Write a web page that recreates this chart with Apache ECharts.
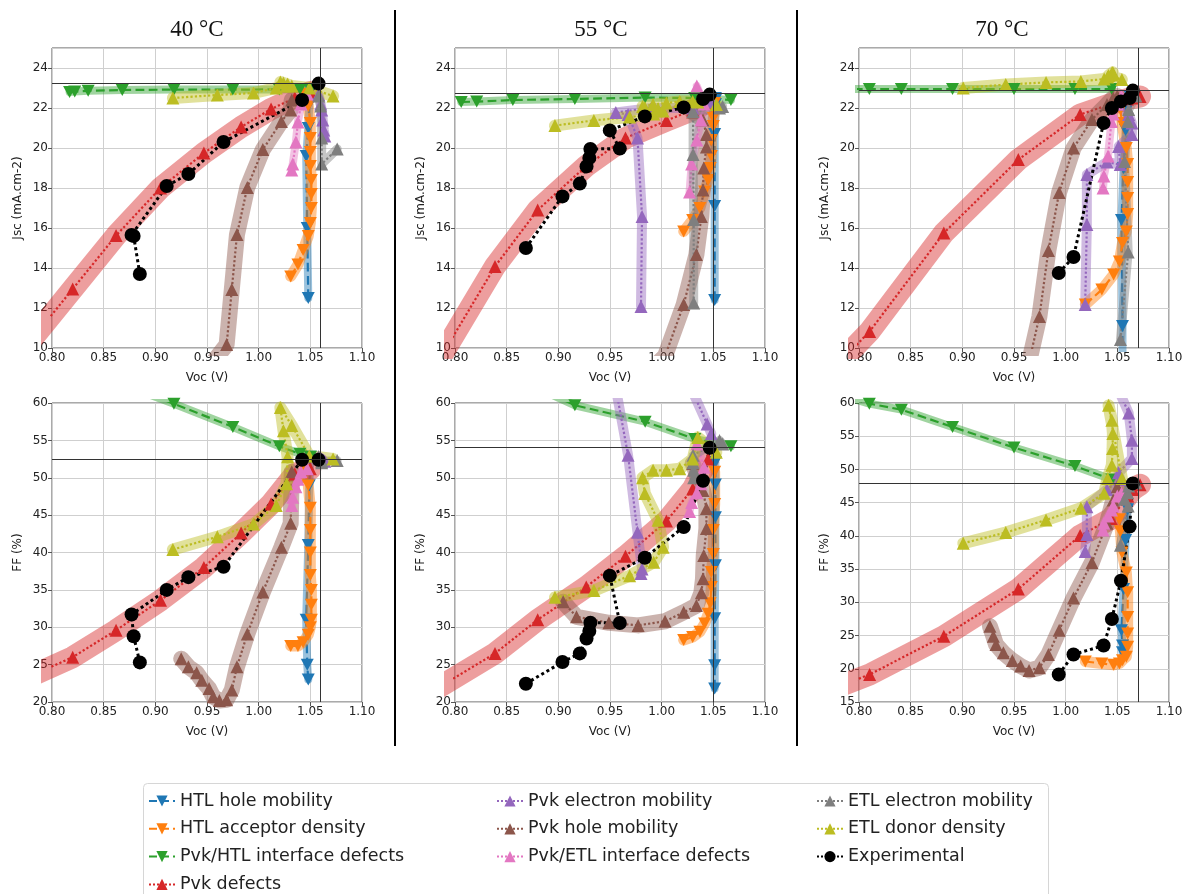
<!DOCTYPE html>
<html>
<head>
<meta charset="utf-8">
<script src="https://cdn.jsdelivr.net/npm/echarts@6/dist/echarts.min.js"></script>
<style>
html, body { margin: 0; background: #fff; }
#chart { width: 1193px; height: 894px; }
</style>
</head>
<body>
<div id="chart"></div>
<script>
// every point: [Voc (V), Jsc (mA.cm-2), FF (%)]
var names = ['HTL hole mobility', 'HTL acceptor density', 'Pvk/HTL interface defects', 'Pvk defects',
	'Pvk electron mobility', 'Pvk hole mobility', 'Pvk/ETL interface defects',
	'ETL electron mobility', 'ETL donor density', 'Experimental'];
var temps = ['40 °C', '55 °C', '70 °C'];
var vocTicks = [0.80, 0.85, 0.90, 0.95, 1.00, 1.05, 1.10];

// ---- 40 °C
var htlHole40 = [[1.048, 12.5, 23.0], [1.047, 16.0, 25.0], [1.046, 19.6, 31.0], [1.048, 21.0, 41.0], [1.049, 22.2, 49.0], [1.050, 22.9, 52.8]];
var htlAcc40 = [[1.031, 13.58, 27.5], [1.038, 14.17, 27.5], [1.043, 14.9, 28.0], [1.048, 15.6, 29.0], [1.050, 16.25, 30.0], [1.051, 17.0, 31.0], [1.051, 17.7, 33.0], [1.051, 18.4, 35.0], [1.050, 19.1, 37.0], [1.050, 19.8, 40.0], [1.050, 20.5, 43.0], [1.050, 21.25, 46.0], [1.048, 22.1, 49.0], [1.045, 22.7, 51.0]];
var pvkHtl40 = [[0.817, 22.8, 66.0], [0.822, 22.82, 65.0], [0.835, 22.86, 64.5], [0.868, 22.9, 62.5], [0.918, 22.92, 59.9], [0.975, 22.92, 56.8], [1.020, 22.93, 54.2], [1.040, 22.95, 53.2], [1.050, 22.95, 52.8]];
var pvkDef40 = [[0.780, 10.4, 23.5], [0.820, 12.95, 26.0], [0.862, 15.62, 29.6], [0.905, 18.0, 33.6], [0.947, 19.75, 38.0], [0.983, 21.05, 42.6], [1.012, 21.95, 46.5], [1.035, 22.5, 50.5], [1.050, 22.8, 51.2]];
var pvkElec40 = [[1.058, 22.67, 52.8], [1.060, 22.2, 52.6], [1.061, 21.9, 52.5], [1.062, 21.4, 52.4], [1.063, 20.9, 52.3], [1.064, 20.6, 52.2]];
var pvkHole40 = [[0.925, 4.0, 25.8], [0.932, 5.5, 24.7], [0.940, 6.8, 23.9], [0.945, 7.8, 22.9], [0.952, 8.7, 21.8], [0.956, 9.3, 20.7], [0.962, 9.7, 20.2], [0.969, 10.17, 20.3], [0.974, 12.92, 21.6], [0.979, 15.67, 24.7], [0.989, 18.03, 29.1], [1.004, 19.92, 34.7], [1.022, 21.33, 40.7], [1.031, 21.9, 43.9], [1.032, 22.4, 50.8]];
var pvkEtl40 = [[1.032, 18.9, 46.3], [1.033, 19.2, 47.4], [1.036, 20.3, 48.8], [1.038, 21.3, 49.8], [1.041, 22.2, 50.8], [1.047, 22.7, 51.2]];
var etlElec40 = [[1.058, 22.6, 52.8], [1.060, 22.1, 52.5], [1.061, 20.5, 52.2], [1.061, 19.2, 52.0], [1.076, 19.95, 52.3]];
var etlDon40 = [[0.917, 22.5, 40.4], [0.960, 22.65, 42.1], [0.995, 22.75, 43.8], [1.017, 23.0, 46.3], [1.027, 23.1, 49.2], [1.028, 23.2, 52.8], [1.024, 23.25, 56.3], [1.021, 23.3, 59.4], [1.032, 23.1, 57.0], [1.049, 23.0, 52.9], [1.072, 22.6, 52.5]];
var exp40 = [[0.885, 13.7, 25.3], [0.879, 15.6, 28.8], [0.877, 15.65, 31.7], [0.911, 18.1, 35.0], [0.932, 18.7, 36.7], [0.966, 20.3, 38.1], [1.042, 22.4, 52.4], [1.058, 23.22, 52.4]];
var ref40 = [1.0584, 23.22, 52.42];

// ---- 55 °C
var htlHole55 = [[1.0513, 12.4, 21.8], [1.0513, 17.1, 24.9], [1.0513, 20.7, 31.2], [1.052, 21.8, 38.3], [1.052, 22.2, 44.7], [1.052, 22.4, 49.1], [1.052, 22.5, 52.1]];
var htlAcc55 = [[1.0213, 15.83, 28.3], [1.030, 16.4, 28.7], [1.037, 17.0, 29.4], [1.0416, 17.83, 30.5], [1.045, 18.4, 31.8], [1.047, 19.0, 33.2], [1.048, 19.6, 35.4], [1.048, 20.4, 37.4], [1.050, 21.1, 39.8], [1.050, 21.5, 43.0], [1.0513, 21.8, 46.5], [1.0513, 22.25, 50.8]];
var pvkHtl55 = [[0.806, 22.3, 68.0], [0.821, 22.32, 66.5], [0.856, 22.4, 63.5], [0.916, 22.45, 59.7], [0.984, 22.52, 57.5], [1.032, 22.5, 55.2], [1.067, 22.4, 54.2]];
var pvkDef55 = [[0.780, 9.0, 21.6], [0.8387, 14.08, 26.5], [0.880, 16.9, 31.0], [0.927, 19.1, 35.4], [0.965, 20.5, 39.5], [1.0046, 21.37, 44.2], [1.030, 21.9, 48.5], [1.045, 22.3, 52.5]];
var pvkElec55 = [[0.980, 12.08, 37.2], [0.981, 16.58, 37.8], [0.9766, 20.5, 42.7], [0.9675, 21.67, 53.0], [0.9556, 21.78, 62.0], [0.990, 22.0, 66.0], [1.030, 22.0, 61.5], [1.044, 22.3, 57.2], [1.048, 22.4, 55.9]];
var pvkHole55 = [[0.9047, 5.0, 33.4], [0.9176, 5.8, 31.4], [0.949, 7.0, 30.6], [0.9772, 8.3, 30.25], [1.0033, 9.6, 30.8], [1.0213, 12.17, 32.0], [1.0336, 14.67, 32.9], [1.0384, 16.58, 34.6], [1.040, 17.9, 36.5], [1.0407, 19.0, 39.6], [1.0433, 20.05, 43.2], [1.0433, 20.67, 45.9], [1.040, 21.4, 48.3], [1.030, 21.8, 51.9]];
var pvkEtl55 = [[1.027, 17.8, 45.5], [1.029, 19.2, 46.7], [1.034, 20.4, 48.0], [1.038, 21.4, 49.2], [1.041, 22.2, 51.4], [1.034, 23.1, 54.5]];
var etlElec55 = [[1.031, 12.25, 50.0], [1.031, 16.42, 51.0], [1.0304, 19.67, 52.0], [1.0304, 21.83, 53.0], [1.056, 22.0, 55.0], [1.059, 22.08, 54.5]];
var etlDon55 = [[0.8967, 21.12, 34.0], [0.9344, 21.38, 34.9], [0.969, 21.55, 36.9], [0.9923, 21.7, 38.7], [1.0014, 21.85, 40.7], [0.9965, 21.95, 44.3], [0.9837, 22.02, 47.9], [0.9815, 22.08, 50.0], [0.9917, 22.17, 51.0], [1.0046, 22.25, 51.0], [1.0175, 22.33, 51.2], [1.030, 22.33, 52.5], [1.035, 22.3, 55.4], [1.0529, 22.17, 53.4]];
var exp55 = [[0.8686, 15.0, 22.45], [0.904, 17.58, 25.35], [0.9208, 18.22, 26.5], [0.9273, 19.08, 28.5], [0.930, 19.5, 29.5], [0.931, 19.95, 30.6], [0.9595, 19.97, 30.57], [0.9498, 20.88, 36.9], [0.9837, 21.58, 39.3], [1.0213, 22.03, 43.4], [1.040, 22.45, 49.6], [1.0465, 22.67, 54.0]];
var ref55 = [1.0468, 22.72, 54.05];

// ---- 70 °C
var htlHole70 = [[1.055, 9.5, 22.5], [1.055, 11.1, 23.5], [1.054, 16.4, 25.8], [1.056, 19.0, 32.0], [1.058, 20.9, 39.4], [1.060, 22.0, 44.0], [1.062, 22.6, 47.0]];
var htlAcc70 = [[1.019, 12.17, 21.1], [1.035, 12.92, 20.8], [1.0464, 13.67, 20.6], [1.052, 14.33, 20.8], [1.055, 15.25, 21.3], [1.0587, 15.83, 21.8], [1.060, 16.7, 23.3], [1.060, 17.5, 25.3], [1.060, 18.3, 27.8], [1.060, 19.2, 31.5], [1.0587, 20.0, 34.5], [1.0545, 21.25, 37.5], [1.053, 21.92, 40.7], [1.052, 22.3, 42.5]];
var pvkHtl70 = [[0.795, 22.95, 60.6], [0.810, 22.95, 59.9], [0.841, 22.95, 59.0], [0.8905, 22.95, 56.4], [0.950, 22.95, 53.3], [1.009, 22.95, 50.5], [1.0447, 22.95, 48.5]];
var pvkDef70 = [[0.780, 9.2, 17.3], [0.8103, 10.83, 19.15], [0.8821, 15.75, 24.9], [0.9542, 19.42, 32.0], [1.014, 21.67, 40.05], [1.044, 22.2, 42.6], [1.060, 22.45, 46.0], [1.065, 22.5, 47.0], [1.072, 22.58, 47.7]];
var pvkElec70 = [[1.0189, 12.17, 37.65], [1.0205, 16.17, 40.2], [1.0205, 18.67, 44.4], [1.040, 19.3, 47.0], [1.0528, 19.17, 48.5], [1.0512, 20.08, 49.5], [1.0641, 20.67, 51.65], [1.0641, 21.25, 54.4], [1.061, 21.67, 58.5], [1.051, 22.2, 62.0]];
var pvkHole70 = [[0.9267, 3.5, 26.4], [0.930, 4.5, 24.9], [0.9326, 5.3, 23.65], [0.9397, 6.3, 22.4], [0.9484, 7.3, 21.25], [0.9565, 8.3, 20.4], [0.9646, 9.3, 19.75], [0.9746, 11.58, 20.15], [0.9833, 14.88, 22.15], [0.9937, 17.78, 25.8], [1.0076, 20.0, 30.65], [1.0254, 21.42, 36.0], [1.040, 22.17, 41.9], [1.046, 22.5, 45.4], [1.050, 22.6, 47.4]];
var pvkEtl70 = [[1.0362, 18.0, 40.9], [1.037, 18.6, 41.9], [1.041, 19.6, 43.0], [1.0443, 21.33, 43.9], [1.046, 21.7, 44.5], [1.050, 22.2, 46.0], [1.054, 22.6, 46.4]];
var etlElec70 = [[1.053, 10.42, 38.6], [1.0605, 14.8, 44.5], [1.057, 19.33, 45.5], [1.060, 21.33, 46.5], [1.061, 21.92, 47.5], [1.068, 22.6, 48.0]];
var etlDon70 = [[0.9009, 23.0, 38.9], [0.942, 23.17, 40.5], [0.981, 23.28, 42.4], [1.0147, 23.33, 44.15], [1.0373, 23.45, 46.4], [1.0406, 23.55, 48.65], [1.0447, 23.65, 50.65], [1.0454, 23.72, 53.15], [1.0457, 23.78, 55.4], [1.0447, 23.75, 57.4], [1.0415, 23.62, 59.65], [1.0544, 23.42, 48.65]];
var exp70 = [[0.9933, 13.75, 19.15], [1.0076, 14.55, 22.15], [1.0367, 21.25, 23.5], [1.0447, 22.0, 27.5], [1.0535, 22.33, 33.25], [1.0619, 22.5, 41.4], [1.065, 22.87, 47.9]];
var ref70 = [1.0651, 22.87, 47.95];

var sets = [
	[htlHole40, htlAcc40, pvkHtl40, pvkDef40, pvkElec40, pvkHole40, pvkEtl40, etlElec40, etlDon40, exp40],
	[htlHole55, htlAcc55, pvkHtl55, pvkDef55, pvkElec55, pvkHole55, pvkEtl55, etlElec55, etlDon55, exp55],
	[htlHole70, htlAcc70, pvkHtl70, pvkDef70, pvkElec70, pvkHole70, pvkEtl70, etlElec70, etlDon70, exp70]
];
var refs = [ref40, ref55, ref70];

// look
var colors = ['#1f77b4', '#ff7f0e', '#2ca02c', '#d62728', '#9467bd', '#8c564b', '#e377c2', '#7f7f7f', '#bcbd22', '#000000'];
var down = 'path://M0,0L10,0L5,9Z';
var symbols = [down, down, down, 'triangle', 'triangle', 'triangle', 'triangle', 'triangle', 'triangle', 'circle'];
var lineTypes = ['dashed', 'dashed', 'dashed', 'dotted', 'dotted', 'dotted', 'dotted', 'dotted', 'dotted', 'dotted'];
var bandWidths = [8, 11, 8, 22, 10, 16, 8, 9, 12, 0];
var lefts = [52, 455, 859];
var frame = '#555';

var grids = [], xAxes = [], yAxes = [], series = [];
for (var row = 0; row < 2; row++) {
	for (var t = 0; t < 3; t++) {
		var gi = grids.length;
		grids.push({left: lefts[t], top: row ? 403 : 48, width: 310, height: row ? 299 : 300,
			show: true, borderColor: frame, borderWidth: 1, backgroundColor: 'transparent'});
		xAxes.push({type: 'value', gridIndex: gi, min: vocTicks[0], max: vocTicks[vocTicks.length - 1], interval: 0.05,
			name: 'Voc (V)', nameLocation: 'middle', nameGap: 24,
			nameTextStyle: {fontFamily: 'DejaVu Sans', fontSize: 12, color: '#222'},
			axisLine: {show: false}, axisTick: {show: true, length: 4, lineStyle: {color: frame}},
			axisLabel: {fontFamily: 'DejaVu Sans', fontSize: 12, color: '#222', margin: 4,
				formatter: function(v) { return v.toFixed(2); }},
			splitLine: {show: true, lineStyle: {color: '#cfcfcf', width: 1}}});
		yAxes.push({type: 'value', gridIndex: gi,
			min: row ? (t === 2 ? 15 : 20) : 10, max: row ? 60 : 25, interval: row ? 5 : 2,
			name: row ? 'FF (%)' : 'Jsc (mA.cm-2)', nameLocation: 'middle', nameGap: 28,
			nameTextStyle: {fontFamily: 'DejaVu Sans', fontSize: 12, color: '#222'},
			axisLine: {show: false}, axisTick: {show: true, length: 4, lineStyle: {color: frame}},
			axisLabel: {fontFamily: 'DejaVu Sans', fontSize: 12, color: '#222', margin: 4, showMaxLabel: row === 1},
			splitLine: {show: true, lineStyle: {color: '#cfcfcf', width: 1}}});

		var set = sets[t];
		for (var k = 0; k < set.length; k++) {
			var pts = set[k].map(function(p) { return [p[0], p[row + 1]]; });
			if (bandWidths[k] > 0) {
				series.push({type: 'line', name: names[k] + ' band', xAxisIndex: gi, yAxisIndex: gi, data: pts,
					symbol: 'none', silent: true, clip: true, z: 2,
					lineStyle: {color: colors[k], width: bandWidths[k], opacity: 0.45, cap: 'round', join: 'round'}});
			}
			var s = {type: 'line', name: names[k], xAxisIndex: gi, yAxisIndex: gi, data: pts, clip: true, z: 2,
				symbol: symbols[k], symbolSize: k === 9 ? 14 : (k < 3 ? [13, 12] : 13),
				itemStyle: {color: colors[k]},
				lineStyle: {color: colors[k], width: k === 9 ? 3 : 2.2, type: lineTypes[k]}};
			if (k === 9) {
				s.markLine = {symbol: 'none', silent: true, label: {show: false},
					lineStyle: {color: '#333', width: 1, type: 'solid'},
					data: [{xAxis: refs[t][0]}, {yAxis: refs[t][row + 1]}]};
			}
			series.push(s);
		}
	}
}

function legendCol(left, from, to) {
	return {left: left, top: 792, height: 110, padding: 0, orient: 'vertical', itemGap: 9.8, itemWidth: 26, itemHeight: 14,
		data: names.slice(from, to), selectedMode: false,
		textStyle: {fontFamily: 'DejaVu Sans', fontSize: 17.5, color: '#222', lineHeight: 18}};
}

var chart = echarts.init(document.getElementById('chart'), null, {renderer: 'canvas'});
chart.setOption({
	animation: false,
	backgroundColor: '#fff',
	title: temps.map(function(txt, i) {
		return {text: txt, left: [192, 596, 997][i], top: 13, textAlign: 'center',
			textStyle: {fontFamily: 'Liberation Serif', fontSize: 23, fontWeight: 'normal', color: '#111'}};
	}),
	graphic: [
		{type: 'line', shape: {x1: 395, y1: 10, x2: 395, y2: 746}, style: {stroke: '#000', lineWidth: 2}},
		{type: 'line', shape: {x1: 797, y1: 10, x2: 797, y2: 746}, style: {stroke: '#000', lineWidth: 2}},
		{type: 'rect', shape: {x: 143.5, y: 783.5, width: 905, height: 120, r: 4}, z: -1,
			style: {fill: '#fff', stroke: '#d6d6d6', lineWidth: 1}}
	],
	legend: [legendCol(148, 0, 4), legendCol(496, 4, 7), legendCol(816, 7, 10)],
	grid: grids,
	xAxis: xAxes,
	yAxis: yAxes,
	series: series
});
</script>
</body>
</html>
